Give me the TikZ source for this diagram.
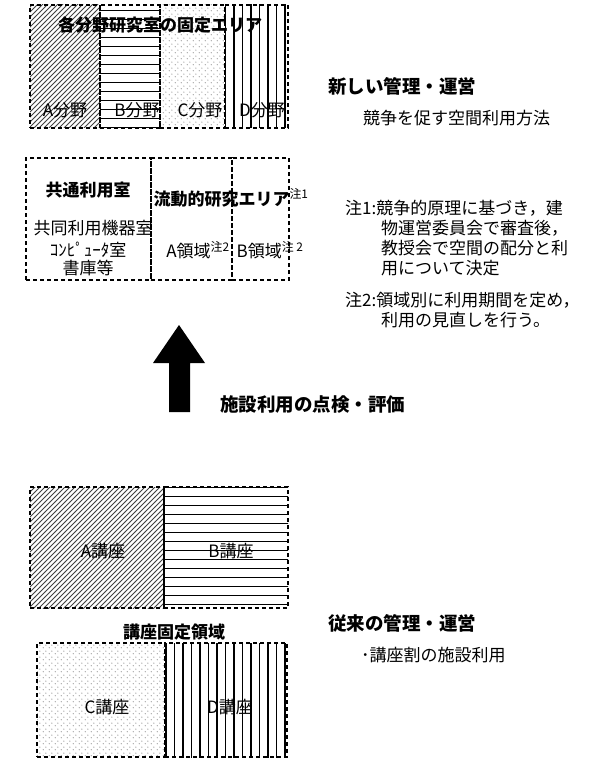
\documentclass[tikz,border=0pt]{standalone}
\usepackage{fontspec}
\setmainfont{Noto Sans CJK JP}
\usetikzlibrary{patterns,positioning}

% fill patterns of the cells
\pgfdeclarepatternformonly{slant}{\pgfpoint{-1pt}{-1pt}}{\pgfpoint{6pt}{6pt}}{\pgfpoint{5pt}{5pt}}{%
  \pgfsetdash{}{0pt}\pgfsetlinewidth{1pt}\pgfpathmoveto{\pgfpoint{0pt}{0pt}}\pgfpathlineto{\pgfpoint{5.1pt}{5.1pt}}\pgfusepath{stroke}}
\pgfdeclarepatternformonly{hstripe}{\pgfpoint{-1pt}{-1pt}}{\pgfpoint{10pt}{10pt}}{\pgfpoint{9pt}{9pt}}{%
  \pgfsetdash{}{0pt}\pgfsetlinewidth{1.6pt}\pgfpathmoveto{\pgfpoint{0pt}{4.5pt}}\pgfpathlineto{\pgfpoint{9.1pt}{4.5pt}}\pgfusepath{stroke}}
\pgfdeclarepatternformonly{vstripe}{\pgfpoint{-1pt}{-1pt}}{\pgfpoint{9.5pt}{9.5pt}}{\pgfpoint{8.5pt}{8.5pt}}{%
  \pgfsetdash{}{0pt}\pgfsetlinewidth{1.5pt}\pgfpathmoveto{\pgfpoint{4.25pt}{0pt}}\pgfpathlineto{\pgfpoint{4.25pt}{8.6pt}}\pgfusepath{stroke}}
\pgfdeclarepatternformonly{speck}{\pgfpointorigin}{\pgfpoint{6pt}{6pt}}{\pgfpoint{6pt}{6pt}}{%
  \pgfpathcircle{\pgfpoint{1.5pt}{1.5pt}}{0.75pt}\pgfpathcircle{\pgfpoint{4.5pt}{4.5pt}}{0.75pt}\pgfusepath{fill}}

\begin{document}
\begin{tikzpicture}[x=1pt, y=-1pt,
    cell/.style = {draw, line width=1.3pt, dash pattern=on 4pt off 3pt,
      inner sep=0pt, outer sep=0pt},
    txt/.style = {inner sep=0pt, font=\fontsize{17}{20}\selectfont},
    bold/.style = {inner sep=0pt, font=\fontsize{17}{20}\selectfont\bfseries},
    big/.style = {inner sep=0pt, anchor=west, font=\fontsize{18.5}{22}\selectfont\bfseries},
    note/.style = {txt, anchor=west}]
  \useasboundingbox (0,0) rectangle (613,762);

  % new scheme: fixed area of each field
  \node[cell, pattern=slant, pattern color=black!75, minimum width=70, minimum height=123] (fa) at (65,66.5) {};
  \node[cell, pattern=hstripe, minimum width=60, minimum height=123] (fb) at (130,66.5) {};
  \node[cell, pattern=speck, pattern color=black!40, minimum width=65, minimum height=123] (fc) at (192.5,66.5) {};
  \node[cell, pattern=vstripe, minimum width=63, minimum height=123] (fd) at (256.5,66.5) {};
  \node[bold] (fixed) at (160,25) {各分野研究室の固定エリア};
  \node[txt] (la) at (65,110) {A分野};
  \node[txt] (lb) at (137,110) {B分野};
  \node[txt] (lc) at (200,110) {C分野};
  \node[txt] (ld) at (262,110) {D分野};

  % common rooms and floating area
  \node[cell, minimum width=125, minimum height=122] (common) at (88.5,219) {};
  \node[cell, minimum width=81, minimum height=122] (floatA) at (191.5,219) {};
  \node[cell, minimum width=57, minimum height=122] (floatB) at (260.5,219) {};
  \node[bold] (commonT) at (88,190) {共通利用室};
  \node[bold] (floatT) at (231,198) {流動的研究エリア\textsuperscript{\mdseries 注1}};
  \node[txt] (c1) at (93,228) {共同利用機器室};
  \node[txt] (c2) at (88,250) {ｺﾝﾋﾟｭｰﾀ室};
  \node[txt] (c3) at (88,268) {書庫等};
  \node[txt] (ra) at (198,250) {A領域\textsuperscript{注2}};
  \node[txt] (rb) at (270,250) {B領域\textsuperscript{注 2}};

  \node[big] (newT) at (328,86) {新しい管理・運営};
  \node[txt, anchor=west] (newS) at (363,118) {競争を促す空間利用方法};

  \node[note] (n1a) at (345,208) {注1:競争的原理に基づき，建};
  \node[note] (n1b) at (381,228) {物運営委員会で審査後，};
  \node[note] (n1c) at (381,248) {教授会で空間の配分と利};
  \node[note] (n1d) at (381,268) {用について決定};
  \node[note] (n2a) at (345,300) {注2:領域別に利用期間を定め，};
  \node[note] (n2b) at (381,320) {利用の見直しを行う。};

  % review arrow
  \fill (169,412) -- (169,363) -- (153,363) -- (179,325) -- (205,363)
    -- (190,363) -- (190,412) -- cycle;
  \node[big] (review) at (220,405) {施設利用の点検・評価};

  % old scheme: fixed chairs
  \node[cell, pattern=slant, pattern color=black!75, minimum width=134, minimum height=121] (ka) at (97,547.5) {};
  \node[cell, pattern=hstripe, minimum width=124, minimum height=121] (kb) at (226,547.5) {};
  \node[cell, pattern=speck, pattern color=black!40, minimum width=128, minimum height=114] (kc) at (101,700) {};
  \node[cell, pattern=vstripe, minimum width=122, minimum height=114] (kd) at (226,700) {};
  \node[txt] (kaT) at (103,551) {A講座};
  \node[txt] (kbT) at (231,551) {B講座};
  \node[txt] (kcT) at (107,707) {C講座};
  \node[txt] (kdT) at (230,707) {D講座};
  \node[bold] (chairT) at (174,632) {講座固定領域};

  \node[big] (oldT) at (328,623) {従来の管理・運営};
  \node[txt, anchor=west] (oldS) at (361,655) {･講座割の施設利用};
\end{tikzpicture}
\end{document}
